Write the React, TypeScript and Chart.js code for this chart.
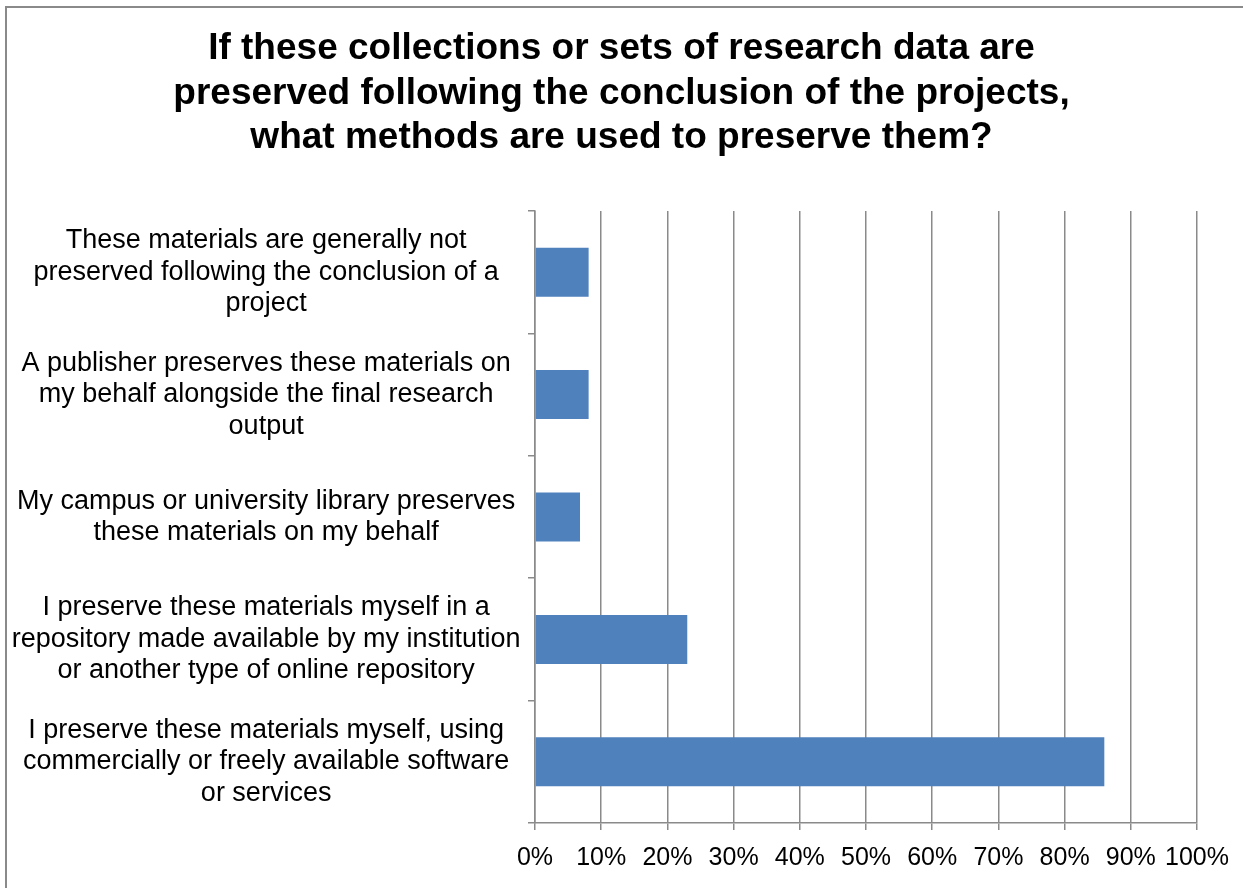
import React, { useEffect, useRef } from "react";
import { Chart, registerables } from "chart.js";

Chart.register(...registerables);

const titleLines = [
  "If these collections or sets of research data are",
  "preserved following the conclusion of the projects,",
  "what methods are used to preserve them?",
];

const categories: string[][] = [
  ["These materials are generally not", "preserved following the conclusion of a", "project"],
  ["A publisher preserves these materials on", "my behalf alongside the final research", "output"],
  ["My campus or university library preserves", "these materials on my behalf"],
  ["I preserve these materials myself in a", "repository made available by my institution", "or another type of online repository"],
  ["I preserve these materials myself, using", "commercially or freely available software", "or services"],
];

const percentages = [8.1, 8.1, 6.8, 23.0, 86.0];

const xTickMin = 0;
const xTickMax = 100;
const xTickStep = 10;

const GRID = "#8a8a8a";
const FONT = "'Liberation Sans', Arial, sans-serif";

export default function App() {
  const ref = useRef<HTMLCanvasElement | null>(null);

  useEffect(() => {
    document.body.style.margin = "0";
    document.body.style.overflow = "hidden";
    const ctx = ref.current;
    if (!ctx) return;
    const chart = new Chart(ctx, {
      type: "bar",
      data: {
        labels: categories,
        datasets: [
          {
            data: percentages,
            backgroundColor: "#4F81BD",
            borderWidth: 0,
            barPercentage: 0.4,
            categoryPercentage: 1,
          },
        ],
      },
      options: {
        indexAxis: "y",
        animation: false,
        responsive: true,
        maintainAspectRatio: false,
        layout: { padding: { left: 0, right: 0, top: 0, bottom: 0 } },
        plugins: {
          legend: { display: false },
          tooltip: { enabled: false },
          title: {
            display: true,
            text: titleLines,
            color: "#000",
            font: { family: FONT, size: 37, weight: "bold", lineHeight: "44.5px" },
            padding: { top: 27, bottom: 50.5 },
          },
        },
        scales: {
          x: {
            type: "linear",
            position: "bottom",
            min: xTickMin,
            max: xTickMax,
            ticks: {
              stepSize: xTickStep,
              autoSkip: false,
              color: "#000",
              font: { family: FONT, size: 25 },
              padding: 13,
              maxRotation: 0,
              callback: (v: any) => `${v}%`,
            },
            grid: {
              color: GRID,
              lineWidth: 1.5,
              tickLength: 7,
              drawOnChartArea: true,
            },
            border: { display: true, color: GRID, width: 1.5 },
            afterFit: (scale: any) => {
              scale.height = 65;
            },
          },
          y: {
            type: "category",
            position: "left",
            ticks: {
              color: "#000",
              font: { family: FONT, size: 27, lineHeight: "31.5px" },
              crossAlign: "center",
              padding: 7.5,
              autoSkip: false,
            },
            grid: {
              color: GRID,
              lineWidth: 1.5,
              tickLength: 7,
              drawOnChartArea: false,
              offset: true,
            },
            border: { display: true, color: GRID, width: 1.5 },
            afterFit: (scale: any) => {
              scale.width = 535;
            },
          },
          rightSpace: {
            type: "linear",
            position: "right",
            display: true,
            ticks: { display: false },
            grid: { display: false },
            border: { display: false },
            afterFit: (scale: any) => {
              scale.width = 46;
            },
          },
        },
      },
    });
    return () => chart.destroy();
  }, []);

  return (
    <div style={{ position: "fixed", left: 0, top: 0, width: 1243, height: 888, overflow: "hidden", background: "#fff" }}>
      <canvas ref={ref} style={{ position: "absolute", left: 0, top: 0 }} />
      <div
        style={{
          position: "absolute",
          left: 5,
          top: 6,
          width: 1400,
          height: 1000,
          border: "2px solid #8a8a8a",
          boxSizing: "border-box",
          pointerEvents: "none",
        }}
      />
    </div>
  );
}
